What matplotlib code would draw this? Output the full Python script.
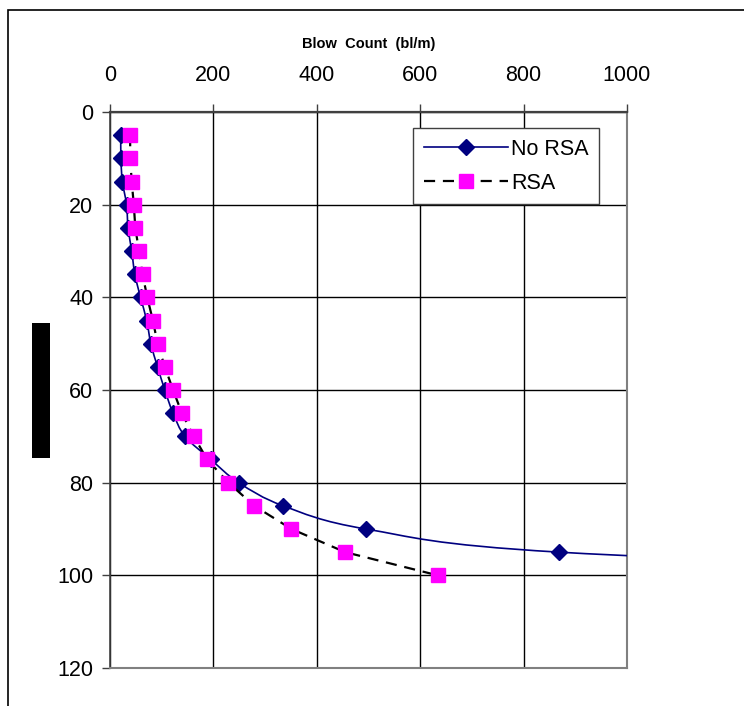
import matplotlib
matplotlib.use("Agg")
from matplotlib import pyplot as plt
from matplotlib.patches import Rectangle, PathPatch
from matplotlib.path import Path
from matplotlib.lines import Line2D

plt.rcParams["font.family"] = ["Liberation Sans", "DejaVu Sans"]

# data (depth vs blow count)
depth_no_rsa = [5, 10, 15, 20, 25, 30, 35, 40, 45, 50, 55, 60, 65, 70, 75, 80, 85, 90, 95, 100]
blow_no_rsa = [21, 21, 24, 32, 35, 42, 48, 59, 71, 79, 92, 106, 122, 145, 195, 249, 335, 495, 869, 2000]

depth_rsa = [5, 10, 15, 20, 25, 30, 35, 40, 45, 50, 55, 60, 65, 70, 75, 80, 85, 90, 95, 100]
blow_rsa = [39, 39, 42, 46, 49, 56, 63, 72, 83, 92, 106, 122, 139, 162, 188, 229, 279, 351, 455, 634]

x_ticks = [0, 200, 400, 600, 800, 1000]
y_ticks = [0, 20, 40, 60, 80, 100, 120]

navy = "#000080"
magenta = "#FF00FF"


def smooth_path(xs, ys):
    # Excel-like smoothed line: Catmull-Rom turned into cubic Bezier
    pts = list(zip(xs, ys))
    verts = [pts[0]]
    codes = [Path.MOVETO]
    n = len(pts)
    for i in range(n - 1):
        p0 = pts[i - 1] if i > 0 else pts[i]
        p1 = pts[i]
        p2 = pts[i + 1]
        p3 = pts[i + 2] if i + 2 < n else pts[i + 1]
        c1 = (p1[0] + (p2[0] - p0[0]) / 6, p1[1] + (p2[1] - p0[1]) / 6)
        c2 = (p2[0] - (p3[0] - p1[0]) / 6, p2[1] - (p3[1] - p1[1]) / 6)
        verts += [c1, c2, p2]
        codes += [Path.CURVE4] * 3
    return Path(verts, codes)


fig = plt.figure(figsize=(7.44, 7.06), dpi=100)
ax = fig.add_axes([110 / 744, 1 - 668 / 706, 517 / 744, 556 / 706])

ax.set_xlim(0, 1000)
ax.set_ylim(120, 0)
ax.xaxis.tick_top()
ax.xaxis.set_label_position("top")
ax.set_xticks(x_ticks)
ax.set_yticks(y_ticks)
ax.grid(True, color="black", linewidth=1.0)
ax.set_axisbelow(True)

for side in ["right", "bottom"]:
    ax.spines[side].set_color("#808080")
    ax.spines[side].set_linewidth(1.5)
ax.spines["top"].set_color("#404040")
ax.spines["top"].set_linewidth(1.6)
ax.spines["left"].set_color("#404040")
ax.spines["left"].set_linewidth(1.2)

ax.tick_params(axis="x", direction="out", length=6, width=1, color="#404040",
               labelsize=15.5, pad=13)
ax.tick_params(axis="y", direction="out", length=6, width=1, color="#404040",
               labelsize=15.5, pad=6)

# No RSA: smoothed navy line with diamonds
ax.add_patch(PathPatch(smooth_path(blow_no_rsa, depth_no_rsa), facecolor="none",
                       edgecolor=navy, linewidth=1.2, zorder=3))
ax.plot(blow_no_rsa, depth_no_rsa, linestyle="none", marker="D", markersize=8.5,
        color=navy, zorder=4)

# RSA: black dashed line with magenta squares
ax.plot(blow_rsa, depth_rsa, linestyle=(0, (5, 3.5)), color="black", linewidth=1.6,
        marker="s", markersize=10.5, markerfacecolor=magenta, markeredgecolor=magenta,
        zorder=5)

handles = [
    Line2D([], [], color=navy, linewidth=1.2, marker="D", markersize=8.5),
    Line2D([], [], color="black", linewidth=1.6, linestyle=(0, (5, 3.5)), marker="s",
           markersize=10.5, markerfacecolor=magenta, markeredgecolor=magenta),
]
leg = ax.legend(handles, ["No RSA", "RSA"], loc="upper left",
                bbox_to_anchor=((413 - 110) / 517, (668 - 128) / 556),
                fontsize=15.5, fancybox=False, framealpha=1, edgecolor="#404040",
                handlelength=3.9, handletextpad=0.15, borderpad=0.5,
                labelspacing=0.6, borderaxespad=0)
leg.get_frame().set_linewidth(1.0)

ax.set_xlabel("Blow  Count  (bl/m)", fontsize=10.5, fontweight="bold", labelpad=12)

# outer chart border and blacked-out y label
fig.patches.append(Rectangle((8 / 744, -0.1), 1.2, 1.1 - 10 / 706, transform=fig.transFigure,
                             fill=False, edgecolor="black", linewidth=1.2))
fig.patches.append(Rectangle((32 / 744, 1 - 458 / 706), 18 / 744, 135 / 706,
                             transform=fig.transFigure, facecolor="black",
                             edgecolor="none"))

fig.savefig("out.png", dpi=100)
